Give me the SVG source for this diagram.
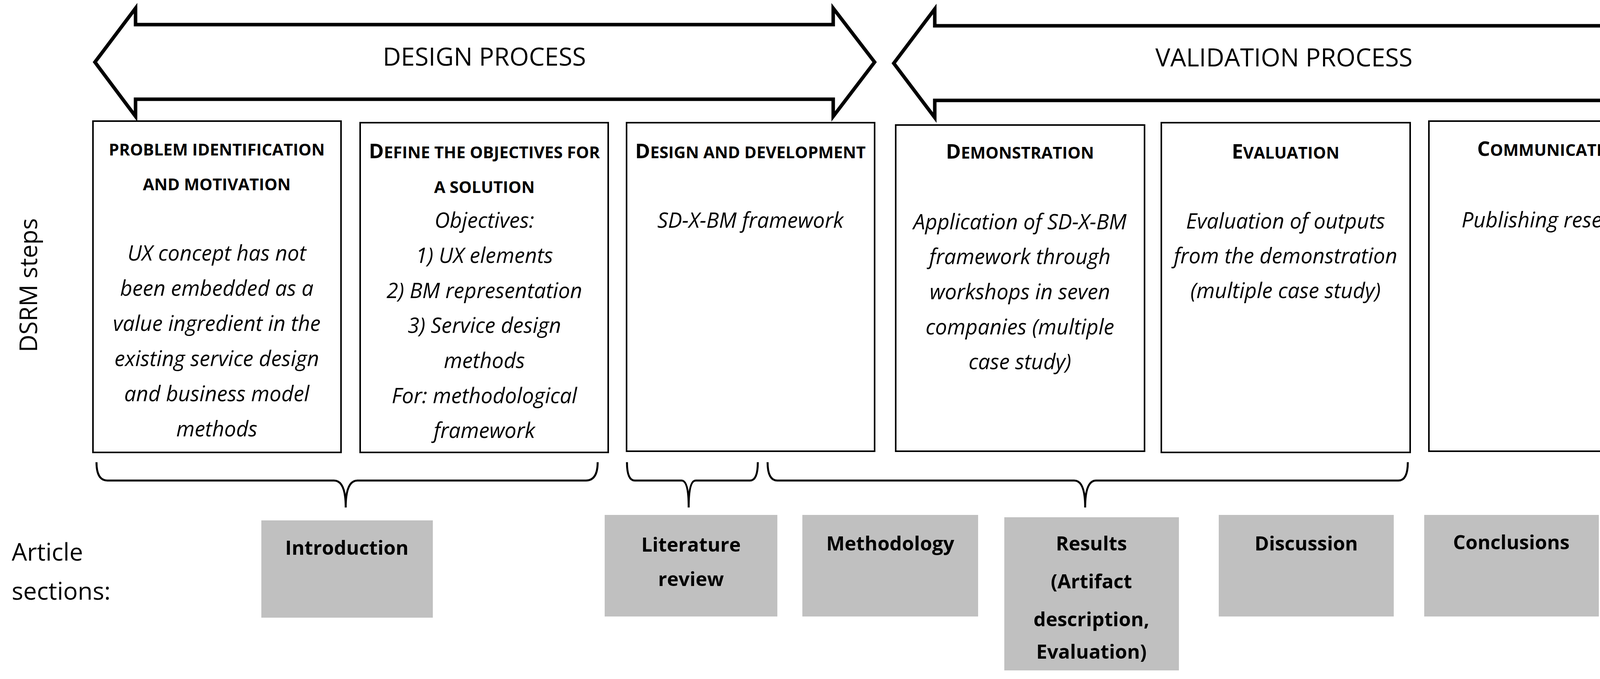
<svg xmlns="http://www.w3.org/2000/svg" width="4334" height="1738" viewBox="0 0 4334 1738">
<style>
.ar{fill:#fff;stroke:#000;stroke-width:9;stroke-linejoin:miter}
.bx{fill:#fff;stroke:#000;stroke-width:4}
.br{fill:none;stroke:#000;stroke-width:5}
.gr{fill:#c0c0c0}
text{font-family:"Open Sans","Liberation Sans",sans-serif;text-anchor:middle;fill:#000}
.h{font-size:64px}
.t{font-size:42px;font-weight:bold}
.t .c{font-size:52px}
.b{font-size:54px;font-style:italic}
.s{font-size:50px;font-weight:bold}
.l{font-size:62px;text-anchor:start}
</style>
<rect width="4334" height="1738" fill="#fff"/>
<g id="design-arrow">
<polygon class="ar" points="243,159 347,21 347,63 2133,63 2133,21 2239,159 2133,298 2133,254 347,254 347,298"/>
<text class="h" x="1240" y="168">DESIGN PROCESS</text>
</g>
<g id="validation-arrow">
<polygon class="ar" points="2288,162 2393,23 2393,66 4180,66 4180,23 4282,162 4180,301 4180,257 2393,257 2393,301"/>
<text class="h" x="3287" y="170">VALIDATION PROCESS</text>
</g>
<text class="l" transform="translate(95,730) rotate(-90)" style="text-anchor:middle">DSRM steps</text>
<g id="box1">
<rect class="bx" x="238" y="310" width="635" height="848"/>
<text class="t" x="555" y="398">PROBLEM IDENTIFICATION</text>
<text class="t" x="555" y="487">AND MOTIVATION</text>
<text class="b" x="555" y="667">UX concept has not</text>
<text class="b" x="555" y="757">been embedded as a</text>
<text class="b" x="555" y="847">value ingredient in the</text>
<text class="b" x="555" y="937">existing service design</text>
<text class="b" x="555" y="1027">and business model</text>
<text class="b" x="555" y="1117">methods</text>
</g>
<g id="box2">
<rect class="bx" x="922" y="314" width="635" height="844"/>
<text class="t" x="1240" y="405"><tspan class="c">D</tspan>EFINE THE OBJECTIVES FOR</text>
<text class="t" x="1240" y="494">A SOLUTION</text>
<text class="b" x="1240" y="583">Objectives:</text>
<text class="b" x="1240" y="673">1) UX elements</text>
<text class="b" x="1240" y="763">2) BM representation</text>
<text class="b" x="1240" y="852">3) Service design</text>
<text class="b" x="1240" y="942">methods</text>
<text class="b" x="1240" y="1032">For: methodological</text>
<text class="b" x="1240" y="1121">framework</text>
</g>
<g id="box3">
<rect class="bx" x="1604" y="314" width="635" height="841"/>
<text class="t" x="1921" y="405"><tspan class="c">D</tspan>ESIGN AND DEVELOPMENT</text>
<text class="b" x="1921" y="583">SD-X-BM framework</text>
</g>
<g id="box4">
<rect class="bx" x="2293" y="320" width="637" height="835"/>
<text class="t" x="2611" y="406"><tspan class="c">D</tspan>EMONSTRATION</text>
<text class="b" x="2611" y="587">Application of SD-X-BM</text>
<text class="b" x="2611" y="676">framework through</text>
<text class="b" x="2611" y="766">workshops in seven</text>
<text class="b" x="2611" y="856">companies (multiple</text>
<text class="b" x="2611" y="945">case study)</text>
</g>
<g id="box5">
<rect class="bx" x="2973" y="314" width="637" height="844"/>
<text class="t" x="3291" y="406"><tspan class="c">E</tspan>VALUATION</text>
<text class="b" x="3291" y="585">Evaluation of outputs</text>
<text class="b" x="3291" y="674">from the demonstration</text>
<text class="b" x="3291" y="763">(multiple case study)</text>
</g>
<g id="box6">
<rect class="bx" x="3658" y="310" width="635" height="845"/>
<text class="t" x="3975" y="399"><tspan class="c">C</tspan>OMMUNICATION</text>
<text class="b" x="3975" y="582">Publishing research</text>
</g>
<g id="braces">
<path class="br" d="M247,1183 Q247,1230 275,1230 L855,1230 Q885,1230 885,1299 Q885,1230 915,1230 L1500,1230 Q1530,1230 1530,1183"/>
<path class="br" d="M1605,1183 Q1605,1230 1625,1230 L1745,1230 Q1763,1230 1763,1299 Q1763,1230 1781,1230 L1920,1230 Q1940,1230 1940,1183"/>
<path class="br" d="M1965,1183 Q1965,1230 1990,1230 L2750,1230 Q2778,1230 2778,1299 Q2778,1230 2806,1230 L3580,1230 Q3604,1230 3604,1183"/>
</g>
<text class="l" x="30" y="1435">Article</text>
<text class="l" x="30" y="1535">sections:</text>
<g id="introduction"><rect class="gr" x="669" y="1332" width="439" height="249"/><text class="s" x="888" y="1420">Introduction</text></g>
<g id="literature"><rect class="gr" x="1548" y="1318" width="442" height="260"/><text class="s" x="1769" y="1412">Literature</text><text class="s" x="1769" y="1500">review</text></g>
<g id="methodology"><rect class="gr" x="2054" y="1318" width="450" height="260"/><text class="s" x="2279" y="1409">Methodology</text></g>
<g id="results"><rect class="gr" x="2571" y="1324" width="447" height="392"/><text class="s" x="2794" y="1409">Results</text><text class="s" x="2794" y="1506">(Artifact</text><text class="s" x="2794" y="1603">description,</text><text class="s" x="2794" y="1686">Evaluation)</text></g>
<g id="discussion"><rect class="gr" x="3120" y="1318" width="448" height="260"/><text class="s" x="3344" y="1409">Discussion</text></g>
<g id="conclusions"><rect class="gr" x="3646" y="1318" width="447" height="260"/><text class="s" x="3869" y="1406">Conclusions</text></g>
</svg>
